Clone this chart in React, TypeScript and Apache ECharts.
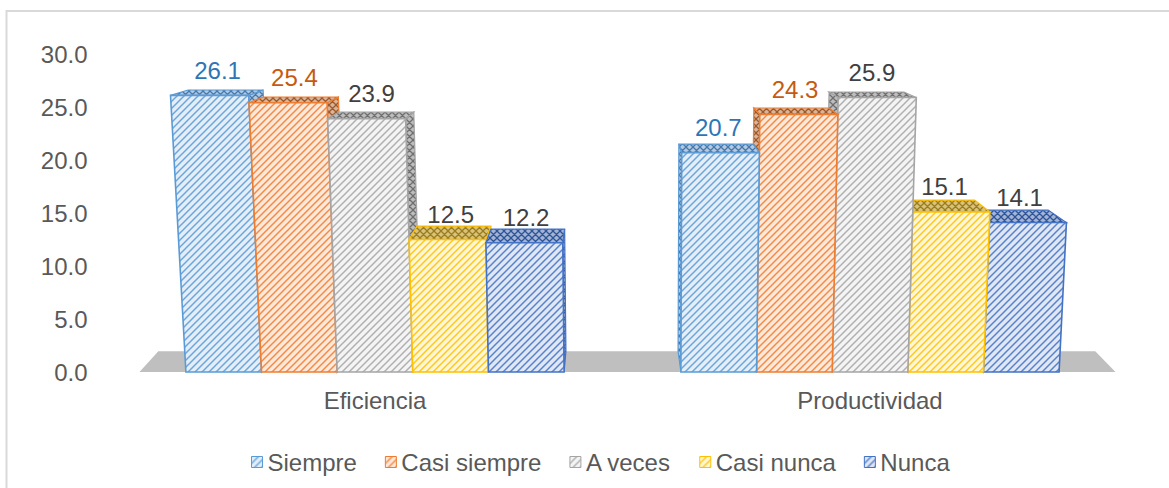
import React, { useEffect, useRef } from 'react';
import * as echarts from 'echarts';

const categories = ['Eficiencia', 'Productividad'];
const seriesNames = ['Siempre', 'Casi siempre', 'A veces', 'Casi nunca', 'Nunca'];
const siempre = [26.1, 20.7];
const casiSiempre = [25.4, 24.3];
const aVeces = [23.9, 25.9];
const casiNunca = [12.5, 15.1];
const nunca = [12.2, 14.1];
const seriesValues = [siempre, casiSiempre, aVeces, casiNunca, nunca];
const yMin = 0;
const yMax = 30;
const yInterval = 5;

const palette = [
  { stroke: '#5b9bd5', bg: '#e3eef9', fg: '#6ea6da', topBg: '#b3c9e1', topFg: '#4a78a8', label: '#2e75b6' },
  { stroke: '#ed7d31', bg: '#fde8da', fg: '#f08c48', topBg: '#d8b49a', topFg: '#9c5a2c', label: '#c55a11' },
  { stroke: '#a5a5a5', bg: '#f4f4f4', fg: '#b0b0b0', topBg: '#bdbdbd', topFg: '#6f6f6f', label: '#404040' },
  { stroke: '#ffc000', bg: '#fff6d6', fg: '#ffc81f', topBg: '#d9c27a', topFg: '#9a7d1e', label: '#404040' },
  { stroke: '#4472c4', bg: '#dfe7f5', fg: '#5a82ca', topBg: '#a3b4d6', topFg: '#2f5597', label: '#404040' },
];

const FONT = 'Liberation Sans, Arial, sans-serif';
const FS = 24;
const VX = 610;
const KX = 0.04;
const KY = 0.056;
const CX = 650;
const SPREAD = 1.2e-4;
const GROUP = 0.764;

function makePattern(bg: string, fg: string, cross = false) {
  const size = 7;
  const c = document.createElement('canvas');
  c.width = size;
  c.height = size;
  const ctx = c.getContext('2d')!;
  ctx.fillStyle = bg;
  ctx.fillRect(0, 0, size, size);
  ctx.strokeStyle = fg;
  ctx.lineWidth = cross ? 1.3 : 1.5;
  ctx.beginPath();
  ctx.moveTo(-1, size + 1);
  ctx.lineTo(size + 1, -1);
  ctx.moveTo(-1, 1);
  ctx.lineTo(1, -1);
  ctx.moveTo(size - 1, size + 1);
  ctx.lineTo(size + 1, size - 1);
  if (cross) {
    ctx.moveTo(-1, -1);
    ctx.lineTo(size + 1, size + 1);
    ctx.moveTo(size - 1, -1);
    ctx.lineTo(size + 1, 1);
    ctx.moveTo(-1, size - 1);
    ctx.lineTo(1, size + 1);
  }
  ctx.stroke();
  return { image: c, repeat: 'repeat' };
}

const back = (p: number[]) => [p[0] + KX * (VX - p[0]), p[1] - KY * p[1]];

export default function App() {
  const ref = useRef<HTMLDivElement>(null);
  useEffect(() => {
    if (!ref.current) return;
    const chart = echarts.init(ref.current, undefined, { renderer: 'svg' });
    const fronts = palette.map((p) => makePattern(p.bg, p.fg));
    const tops = palette.map((p) => makePattern(p.topBg, p.topFg, true));

    const barSeries = seriesNames.map((name, si) => ({
      type: 'custom',
      name,
      itemStyle: { color: fronts[si], borderColor: palette[si].stroke },
      encode: { x: 0, y: 1 },
      data: seriesValues[si].map((v, ci) => [ci, v]),
      renderItem: (params: any, api: any) => {
        const cat = api.value(0);
        const val = api.value(1);
        const base = api.coord([cat, 0]);
        const top = api.coord([cat, val]);
        const band = api.size([1, 0])[0];
        const gw = band * GROUP;
        const bw = gw / 5;
        const x0 = base[0] - gw / 2 + si * bw;
        const x1 = x0 + bw;
        const yb = base[1];
        const yt = top[1];
        const spread = (x: number) => CX + (x - CX) * (1 + SPREAD * (yb - yt));
        const FBL = [x0, yb];
        const FBR = [x1, yb];
        const FTL = [spread(x0), yt];
        const FTR = [spread(x1), yt];
        const dist = Math.abs((x0 + x1) / 2 - VX);
        const z = Math.round(2000 - dist) * 3;
        const col = palette[si];
        const children: any[] = [];
        const shiftMid = KX * (VX - (FTL[0] + FTR[0]) / 2);
        if (x1 < VX) {
          children.push({
            type: 'polygon',
            z2: z,
            shape: { points: [FTR, FBR, back(FBR), back(FTR)] },
            style: { fill: tops[si], stroke: col.stroke, lineWidth: 1.2 },
          });
        } else if (x0 > VX) {
          children.push({
            type: 'polygon',
            z2: z,
            shape: { points: [FTL, FBL, back(FBL), back(FTL)] },
            style: { fill: tops[si], stroke: col.stroke, lineWidth: 1.2 },
          });
        }
        children.push({
          type: 'polygon',
          z2: z + 1,
          shape: { points: [FTL, FTR, back(FTR), back(FTL)] },
          style: { fill: tops[si], stroke: col.stroke, lineWidth: 1.2 },
        });
        children.push({
          type: 'polygon',
          z2: z + 2,
          shape: { points: [FBL, FBR, FTR, FTL] },
          style: { fill: fronts[si], stroke: col.stroke, lineWidth: 1.6 },
        });
        children.push({
          type: 'text',
          z2: 100000,
          style: {
            text: val.toFixed(1),
            x: (FTL[0] + FTR[0]) / 2 + shiftMid * 0.5,
            y: yt - 13,
            fill: col.label,
            fontSize: FS,
            fontFamily: FONT,
            align: 'center',
            verticalAlign: 'bottom',
          },
        });
        return { type: 'group', children };
      },
    }));

    const floorSeries = {
      type: 'custom',
      name: 'floor',
      silent: true,
      encode: { x: 0, y: 1 },
      data: [[0, 0]],
      renderItem: (params: any) => {
        const cs = params.coordSys;
        const yb = cs.y + cs.height;
        const L = [cs.x + 12, yb];
        const R = [cs.x + cs.width - 2, yb];
        return {
          type: 'polygon',
          z2: 0,
          shape: { points: [L, R, back(R), back(L)] },
          style: { fill: '#bfbfbf', stroke: 'none' },
        };
      },
    };

    chart.setOption({
      animation: false,
      grid: { left: 127.5, right: 51.5, top: 54, bottom: 116 },
      graphic: [
        {
          type: 'rect',
          shape: { x: 6.5, y: 11, width: 1200, height: 520 },
          style: { fill: 'none', stroke: '#d9d9d9', lineWidth: 2 },
          silent: true,
          z: -1,
        },
      ],
      legend: {
        left: 246,
        top: 445,
        itemWidth: 11,
        itemHeight: 11,
        itemGap: 28,
        textStyle: { fontSize: FS, color: '#595959', fontFamily: FONT },
        data: seriesNames.map((n, i) => ({
          name: n,
          icon: 'rect',
          itemStyle: { color: fronts[i], borderColor: palette[i].stroke, borderWidth: 1 },
        })),
      },
      xAxis: {
        type: 'category',
        data: categories,
        axisLine: { show: false },
        axisTick: { show: false },
        axisLabel: { fontSize: FS, color: '#595959', fontFamily: FONT, margin: 16 },
      },
      yAxis: {
        type: 'value',
        min: yMin,
        max: yMax,
        interval: yInterval,
        axisLine: { show: false },
        axisTick: { show: false },
        splitLine: { show: false },
        axisLabel: {
          fontSize: FS,
          color: '#595959',
          fontFamily: FONT,
          margin: 40,
          formatter: (v: number) => v.toFixed(1),
        },
      },
      series: [floorSeries, ...barSeries],
    });
    return () => chart.dispose();
  }, []);
  return (
    <div
      ref={ref}
      style={{ position: 'fixed', left: 0, top: 0, width: 1169, height: 488, background: '#fff' }}
    />
  );
}
